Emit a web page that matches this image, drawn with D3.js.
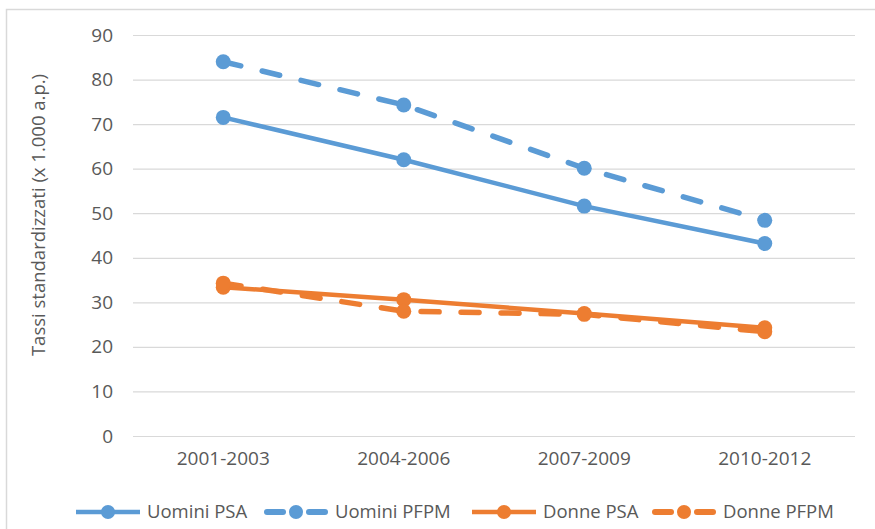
<!DOCTYPE html>
<html>
<head>
<meta charset="utf-8">
<script src="https://cdn.jsdelivr.net/npm/d3@7"></script>
<style>
  html, body { margin: 0; padding: 0; background: #fff; }
  svg { display: block; }
  text { font-family: "Open Sans", "Liberation Sans", sans-serif; fill: #595959; }
</style>
</head>
<body>
<svg id="chart" width="875" height="529"></svg>
<script>
// Periods and standardized rates (per 1,000 person-years)
const periods = ["2001-2003", "2004-2006", "2007-2009", "2010-2012"];
const uominiPSA  = [71.5, 62.0, 51.6, 43.2];
const uominiPFPM = [84.0, 74.3, 60.1, 48.4];
const donnePSA   = [33.4, 30.6, 27.5, 24.3];
const donnePFPM  = [34.3, 28.0, 27.3, 23.4];
const yTicks = [0, 10, 20, 30, 40, 50, 60, 70, 80, 90];

const series = [
  { name: "Uomini PSA",  values: uominiPSA,  color: "#5B9BD5", dashed: false },
  { name: "Uomini PFPM", values: uominiPFPM, color: "#5B9BD5", dashed: true },
  { name: "Donne PSA",   values: donnePSA,   color: "#ED7D31", dashed: false },
  { name: "Donne PFPM",  values: donnePFPM,  color: "#ED7D31", dashed: true }
];

const svg = d3.select("#chart");

// chart-area frame
svg.append("rect")
  .attr("x", 6.5).attr("y", 9.5)
  .attr("width", 1000).attr("height", 1000)
  .attr("fill", "none").attr("stroke", "#d9d9d9").attr("stroke-width", 1.5);

const plot = { left: 133, right: 855, top: 35, bottom: 436 };

const x = d3.scaleBand().domain(periods).range([plot.left, plot.right]);
const y = d3.scaleLinear().domain([0, 90]).range([plot.bottom, plot.top]);

// horizontal gridlines + y labels
const yAxis = d3.axisLeft(y).tickValues(yTicks).tickSize(-(plot.right - plot.left)).tickPadding(20);
const gy = svg.append("g").attr("transform", `translate(${plot.left},0)`).call(yAxis);
gy.select(".domain").remove();
gy.selectAll(".tick line").attr("stroke", "#d9d9d9").attr("stroke-width", 1.2);
gy.selectAll(".tick text").style("font-size", "19px").attr("fill", "#595959");

// x labels
const xAxis = d3.axisBottom(x).tickSize(0).tickPadding(16);
const gx = svg.append("g").attr("transform", `translate(0,${plot.bottom})`).call(xAxis);
gx.select(".domain").remove();
gx.selectAll(".tick text").style("font-size", "19px").attr("fill", "#595959");

// y axis title
svg.append("text")
  .attr("transform", "translate(45,215) rotate(-90)")
  .attr("text-anchor", "middle")
  .style("font-size", "18.5px")
  .text("Tassi standardizzati (x 1.000 a.p.)");

const cx = p => x(p) + x.bandwidth() / 2;
const line = d3.line().x((d, i) => cx(periods[i])).y(d => y(d));

const dash = "18,22";

series.forEach(s => {
  const g = svg.append("g");
  g.append("path")
    .datum(s.values)
    .attr("d", line)
    .attr("fill", "none")
    .attr("stroke", s.color)
    .attr("stroke-width", s.dashed ? 5.5 : 4.5)
    .attr("stroke-linecap", "round")
    .attr("stroke-linejoin", "round")
    .attr("stroke-dasharray", s.dashed ? dash : null);
  g.selectAll("circle")
    .data(s.values)
    .join("circle")
    .attr("cx", (d, i) => cx(periods[i]))
    .attr("cy", d => y(d))
    .attr("r", 7.5)
    .attr("fill", s.color);
});

// legend
const legendX = [76, 264, 472, 652];
const legendY = 512;
series.forEach((s, i) => {
  const g = svg.append("g").attr("transform", `translate(${legendX[i]},${legendY})`);
  if (s.dashed) {
    g.append("line").attr("x1", 3).attr("x2", 19).attr("y1", 0).attr("y2", 0)
      .attr("stroke", s.color).attr("stroke-width", 6).attr("stroke-linecap", "round");
    g.append("line").attr("x1", 45).attr("x2", 61).attr("y1", 0).attr("y2", 0)
      .attr("stroke", s.color).attr("stroke-width", 6).attr("stroke-linecap", "round");
  } else {
    g.append("line").attr("x1", 0).attr("x2", 64).attr("y1", 0).attr("y2", 0)
      .attr("stroke", s.color).attr("stroke-width", 4.5);
  }
  g.append("circle").attr("cx", 32).attr("cy", 0).attr("r", 7).attr("fill", s.color);
  g.append("text").attr("x", 71).attr("y", 0).attr("dy", "0.35em")
    .style("font-size", "18.5px").text(s.name);
});
</script>
</body>
</html>
